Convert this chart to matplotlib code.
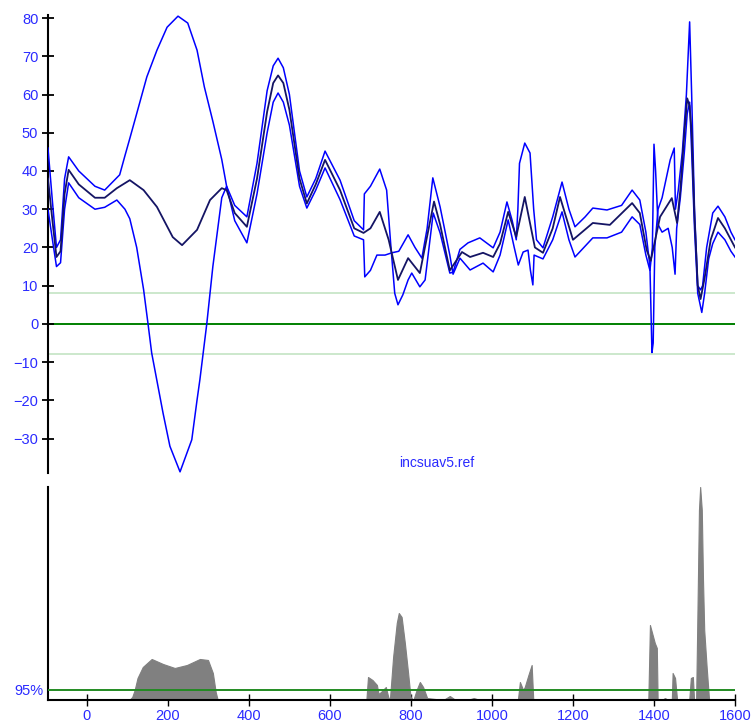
import matplotlib
matplotlib.use("Agg")
import matplotlib.pyplot as plt

plt.rcParams['font.family'] = ['Liberation Sans', 'DejaVu Sans']

# upper bound line (blue)
upper_x = [-96, -85, -75, -65, -55, -45, -20, 20, 44, 81, 94, 106, 123, 148, 173, 198, 225, 249,
           272, 290, 311, 333, 345, 365, 395, 420, 445, 460, 472, 485, 500, 525, 543, 565, 588,
           625, 660, 683, 685, 700, 723, 740, 750, 760, 768, 780, 793, 802, 822, 835, 855, 872,
           896, 904, 921, 941, 970, 1003, 1020, 1037, 1050, 1060, 1064, 1068, 1081, 1094, 1103,
           1110, 1126, 1150, 1173, 1190, 1205, 1230, 1249, 1284, 1320, 1346, 1365, 1380, 1390,
           1395, 1398, 1402, 1410, 1420, 1440, 1450, 1453, 1460, 1470, 1480, 1488, 1493, 1500,
           1508, 1515, 1520, 1530, 1545, 1558, 1575, 1590, 1600]
upper_y = [46, 32, 20, 22, 38, 43.7, 40, 36, 35, 39, 44, 48.5, 55, 64.6, 71.6, 77.6, 80.5, 78.7,
           71.6, 62, 53, 43, 36, 31, 28, 42, 61, 67.5, 69.5, 67, 60, 40, 33.2, 38, 45.2,
           37.6, 27, 24.6, 34, 36, 40.5, 35, 21, 8, 5, 7.6, 11.5, 13.3, 9.7, 11.5, 29, 23.8,
           13.3, 13.5, 19.5, 21.2, 22.5, 19.9, 24, 31.9, 27, 22, 30, 42, 47.3, 44.7, 30,
           22, 19.9, 28, 37.1, 30, 25.4, 28, 30.3, 29.8, 31, 35, 32.4, 24, 15,
           -7.5, -5, 20, 30, 33, 42.9, 46, 30, 35, 45, 60, 79, 60, 30,
           10, 8.9, 10, 20, 29, 30.8, 28, 24, 22]

# lower bound line (blue)
lower_x = [-96, -85, -75, -65, -55, -45, -20, 20, 44, 74, 94, 106, 123, 140, 151, 160, 188, 205,
           230, 259, 272, 279, 296, 311, 333, 345, 365, 395, 420, 445, 460, 472, 485, 500, 525,
           543, 565, 588, 625, 660, 683, 686, 700, 716, 736, 753, 770, 793, 810, 827, 840, 854,
           872, 896, 904, 921, 946, 978, 1003, 1020, 1040, 1055, 1065, 1077, 1089, 1095, 1101,
           1104, 1126, 1150, 1173, 1190, 1205, 1249, 1284, 1320, 1346, 1365, 1380, 1390, 1396,
           1400, 1404, 1410, 1420, 1435, 1445, 1452, 1456, 1465, 1475, 1482, 1488, 1493, 1500,
           1508, 1518, 1525, 1535, 1545, 1558, 1575, 1590, 1600]
lower_y = [30, 22, 15, 16, 30, 36.9, 33, 30, 30.5, 32.4, 30, 27.5, 20, 9, 0, -7.6, -23.3, -32,
           -38.7, -30.3, -19.9, -14.6, 0, 15, 33, 36, 27, 21.2, 34, 50, 58, 60.4, 58, 52, 36,
           30.3, 35, 40.8, 32.5, 23, 22, 12.3, 14, 18, 18, 18.6, 19, 23.3, 20, 17.2, 25, 38.2,
           30.6, 18, 13, 17.2, 14.1, 15.9, 13.6, 18, 27.2, 20, 15.4, 18.8, 19.3, 14, 10.2,
           18, 17, 22, 29.3, 22, 17.5, 22.5, 22.5, 24, 28, 26, 18, 14, 20,
           47, 40, 26, 24, 25, 20, 13, 25, 33, 45, 55, 58, 45, 25,
           8, 3, 8, 17, 21, 24, 22, 19, 17.5]

# mean line (dark navy)
mean_x = [-96, -85, -75, -65, -55, -45, -20, 20, 44, 74, 106, 140, 173, 212, 235, 272, 304, 333,
          345, 365, 395, 420, 445, 460, 472, 485, 500, 525, 543, 565, 588, 625, 660, 683, 700,
          723, 745, 768, 793, 822, 857, 872, 896, 926, 946, 978, 1003, 1020, 1040, 1060, 1081,
          1106, 1126, 1150, 1168, 1200, 1249, 1291, 1346, 1365, 1382, 1392, 1415, 1444, 1457,
          1465, 1475, 1482, 1488, 1493, 1500, 1508, 1515, 1525, 1540, 1558, 1575, 1600]
mean_y = [38, 27, 17.5, 19, 34, 40.3, 36.5, 33, 33, 35.5, 37.6, 35, 30.6, 22.7, 20.6, 24.6, 32.4, 35.5,
          35, 29, 25.4, 38, 55.5, 63, 65, 63, 56, 38, 31.5, 36.5, 42.9, 35, 25, 23.8, 25,
          29.3, 22, 11.5, 17.2, 13.3, 32, 26, 14, 18.8, 17.5, 18.6, 17.5, 21, 29.3, 22.8, 33.2,
          20, 18.6, 25, 33.2, 22, 26.4, 25.9, 31.6, 29, 19.3, 16.5, 28, 32.9, 26.4,
          35, 50, 59, 57, 50, 28, 10, 6.5, 12, 22, 27.7, 25, 20]

# significance profile for the lower panel (95% level = 1)
sig_x = [-96, 105, 112, 118, 125, 138, 160, 188, 217, 247, 279, 299, 311, 318, 323, 330,
         690, 694, 705, 716, 720, 726, 738, 744, 748, 756, 765, 770, 777, 785, 793, 799,
         806, 814, 822, 830, 840, 880, 896, 910, 940, 955, 970, 1064, 1069, 1077, 1081, 1090,
         1098, 1102, 1386, 1390, 1402, 1407, 1409, 1420, 1427, 1435, 1444, 1446, 1452, 1457,
         1487, 1491, 1496, 1499, 1504, 1507, 1511, 1514, 1518, 1521, 1524, 1530, 1536, 1600]
sig_v = [0, 0, 0.3, 1.0, 2.2, 3.3, 4.1, 3.6, 3.2, 3.5, 4.1, 4.0, 2.7, 0.8, 0, 0,
         0, 2.3, 2.0, 1.5, 0.6, 0.8, 1.3, 0.3, 0, 4.3, 7.7, 8.7, 8.3, 5.7, 2.7, 0.3,
         0, 1.0, 1.8, 1.3, 0.2, 0, 0.4, 0, 0, 0.2, 0, 0, 1.8, 1.0, 1.3, 2.5,
         3.5, 0, 0, 7.5, 5.7, 5.2, 0, 0, 0.2, 0, 0, 2.7, 2.2, 0,
         0, 2.2, 2.3, 0, 0, 8, 19, 21.3, 19, 12, 7, 3.3, 0, 0]

xticks = [0, 200, 400, 600, 800, 1000, 1200, 1400, 1600]
yticks = [-30, -20, -10, 0, 10, 20, 30, 40, 50, 60, 70, 80]
band = 8
level95 = 1.0

blue = '#0000ff'
navy = '#141464'
label_blue = '#2a2aff'

fig = plt.figure(figsize=(7.52, 7.25), dpi=100)
ax1 = fig.add_axes([0.0638, 0.3476, 0.9136, 0.6317])
ax2 = fig.add_axes([0.0638, 0.0345, 0.9136, 0.2938])

# top panel
ax1.axhline(band, color='#c8e6c8', lw=1.3, zorder=1)
ax1.axhline(-band, color='#c8e6c8', lw=1.3, zorder=1)
ax1.axhline(0, color='#008000', lw=1.4, zorder=1)
ax1.plot(upper_x, upper_y, color=blue, lw=1.1, zorder=3)
ax1.plot(lower_x, lower_y, color=blue, lw=1.1, zorder=3)
ax1.plot(mean_x, mean_y, color=navy, lw=1.3, zorder=4)
ax1.set_xlim(-96, 1600)
ax1.set_ylim(-39, 80.8)
ax1.set_yticks(yticks)
ax1.set_xticks([])
for s in ['top', 'right', 'bottom']:
    ax1.spines[s].set_visible(False)
ax1.spines['left'].set_linewidth(1.5)
ax1.tick_params(axis='y', direction='inout', length=8, width=1.3, pad=3,
                labelsize=10.5, labelcolor=label_blue)
ax1.text(864, -36.3, 'incsuav5.ref', color=label_blue, fontsize=10,
         ha='center', va='center')

# bottom panel
ax2.fill_between(sig_x, 0, sig_v, color='#808080', lw=0.8, edgecolor='#808080', zorder=2)
ax2.axhline(level95, color='#228b22', lw=1.4, zorder=3)
ax2.set_xlim(-96, 1600)
ax2.set_ylim(0, 21.3)
ax2.set_xticks(xticks)
ax2.set_yticks([level95])
ax2.set_yticklabels(['95%'])
for s in ['top', 'right']:
    ax2.spines[s].set_visible(False)
ax2.spines['left'].set_linewidth(1.5)
ax2.spines['bottom'].set_linewidth(1.5)
ax2.tick_params(axis='x', direction='inout', length=9, width=1.0, pad=2,
                labelsize=10.5, labelcolor=label_blue)
ax2.tick_params(axis='y', length=0, pad=3, labelsize=10.5, labelcolor=label_blue)

fig.savefig('out.png', dpi=100)
